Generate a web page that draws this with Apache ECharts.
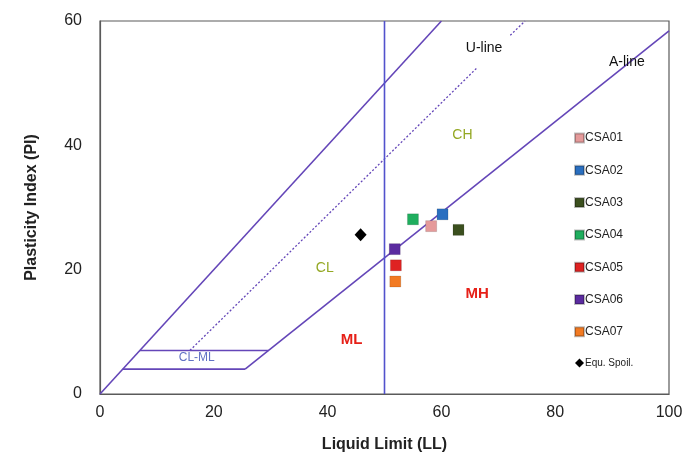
<!DOCTYPE html>
<html><head><meta charset="utf-8">
<script src="https://cdn.jsdelivr.net/npm/echarts@6/dist/echarts.min.js"></script>
<style>html,body{margin:0;padding:0;background:#fff}#c{width:700px;height:471px}</style>
</head><body><div id="c"></div>
<script>
// ---- data ----
const sampleNames = ['CSA01','CSA02','CSA03','CSA04','CSA05','CSA06','CSA07'];
const sampleLL = [58.2, 60.2, 63.0, 55.0, 52.0, 51.8, 51.9];
const samplePI = [27.0, 28.9, 26.4, 28.1, 20.7, 23.3, 18.1];
const sampleColors = ['#e59a9a','#2a6fc0','#3b4f1e','#1fae5e','#df2222','#5b2ba0','#f27a22'];
const spoilName = 'Equ. Spoil.';
const spoilPoint = [45.8, 25.6];

const lineFromOrigin = [[0,0],[60,60]];
const aLine = [[25.5,4],[100,58.4]];
const uLineLower = [[15.8,7],[66.4,52.6]];
const uLineUpper = [[72.1,57.7],[74.7,60]];
const clmlUpper = [[7,7],[29.6,7]];
const clmlLower = [[4,4],[25.5,4]];
const ll50Line = [[50,0],[50,60]];

const zoneLabels = [
  {name:'CH', value:[63.7,41.6], color:'#94a824', bold:false, size:14},
  {name:'CL', value:[39.5,20.3], color:'#94a824', bold:false, size:14},
  {name:'MH', value:[66.3,16.1], color:'#e62018', bold:true, size:15},
  {name:'ML', value:[44.2,8.7], color:'#e62018', bold:true, size:15},
  {name:'CL-ML', value:[17,5.8], color:'#6272c4', bold:false, size:12},
  {name:'U-line', value:[67.5,55.6], color:'#111', bold:false, size:14},
  {name:'A-line', value:[92.6,53.4], color:'#111', bold:false, size:14}
];
const xTicks = [0,20,40,60,80,100];
const yTicks = [0,20,40,60];

// ---- chart ----
const chart = echarts.init(document.getElementById('c'));
const purple = '#6446b8';
function lineSeries(name, data, opts) {
  return Object.assign({
    name: name, type: 'line', data: data, symbol: 'none', silent: true,
    lineStyle: {color: purple, width: 1.6}, z: 1, animation: false
  }, opts || {});
}
const series = [
  lineSeries('origin', lineFromOrigin),
  lineSeries('aLine', aLine),
  lineSeries('uLower', uLineLower, {lineStyle:{color: purple, width: 1.3, type: [2,2]}}),
  lineSeries('uUpper', uLineUpper, {lineStyle:{color: purple, width: 1.3, type: [2,2]}}),
  lineSeries('clmlU', clmlUpper),
  lineSeries('clmlL', clmlLower),
  lineSeries('ll50', ll50Line, {lineStyle:{color:'#5252cc', width:1.6}})
];
sampleNames.forEach((n,i) => {
  series.push({
    name: n, type: 'scatter', symbol: 'rect', symbolSize: 11,
    data: [[sampleLL[i], samplePI[i]]],
    itemStyle: {color: sampleColors[i], opacity: 1, borderColor: 'rgba(0,0,0,0.25)', borderWidth: 0.5},
    z: 5, animation: false
  });
});
series.push({
  name: spoilName, type: 'scatter', symbol: 'diamond', symbolSize: [12,13],
  data: [spoilPoint], itemStyle: {color: '#000', opacity: 1}, z: 5, animation: false
});
series.push({
  name: 'zones', type: 'scatter', symbolSize: 0, silent: true, animation: false,
  itemStyle: {opacity: 1},
  data: zoneLabels.map(z => ({
    name: z.name, value: z.value,
    label: {show: true, position: 'inside', formatter: z.name, color: z.color,
      fontSize: z.size, fontWeight: z.bold ? 'bold' : 'normal', fontFamily: 'Arial, Liberation Sans'}
  }))
});

chart.setOption({
  animation: false,
  backgroundColor: '#fff',
  textStyle: {fontFamily: 'Arial, Liberation Sans, sans-serif'},
  grid: {left: 100, right: 31, top: 21, bottom: 77, show: true, borderColor: '#5a5a5a', borderWidth: 1.2},
  xAxis: {
    type: 'value', min: 0, max: 100, interval: 20,
    name: 'Liquid Limit (LL)', nameLocation: 'middle', nameGap: 43,
    nameTextStyle: {fontSize: 16, fontWeight: 'bold', color: '#222'},
    axisLine: {show: true, lineStyle: {color: '#5a5a5a', width: 1.2}},
    axisTick: {show: false}, splitLine: {show: false},
    axisLabel: {fontSize: 16, color: '#222', margin: 11, formatter: v => xTicks.includes(v) ? String(v) : ''}
  },
  yAxis: {
    type: 'value', min: 0, max: 60, interval: 20,
    name: 'Plasticity Index (PI)', nameLocation: 'middle', nameGap: 60,
    nameTextStyle: {fontSize: 16, fontWeight: 'bold', color: '#222'},
    axisLine: {show: true, lineStyle: {color: '#5a5a5a', width: 1.2}},
    axisTick: {show: false}, splitLine: {show: false},
    axisLabel: {fontSize: 16, color: '#222', margin: 18, formatter: v => yTicks.includes(v) ? String(v) : ''}
  },
  legend: {
    orient: 'vertical', left: 569, top: 127, itemWidth: 9, itemHeight: 9, itemGap: 20.3,
    textStyle: {fontSize: 12, color: '#222', padding: [0,0,0,-4]},
    data: sampleNames.map(n => ({name: n, icon: 'rect'})).concat([
      {name: spoilName, icon: 'diamond', textStyle: {fontSize: 10}}
    ])
  },
  series: series
});
</script></body></html>
